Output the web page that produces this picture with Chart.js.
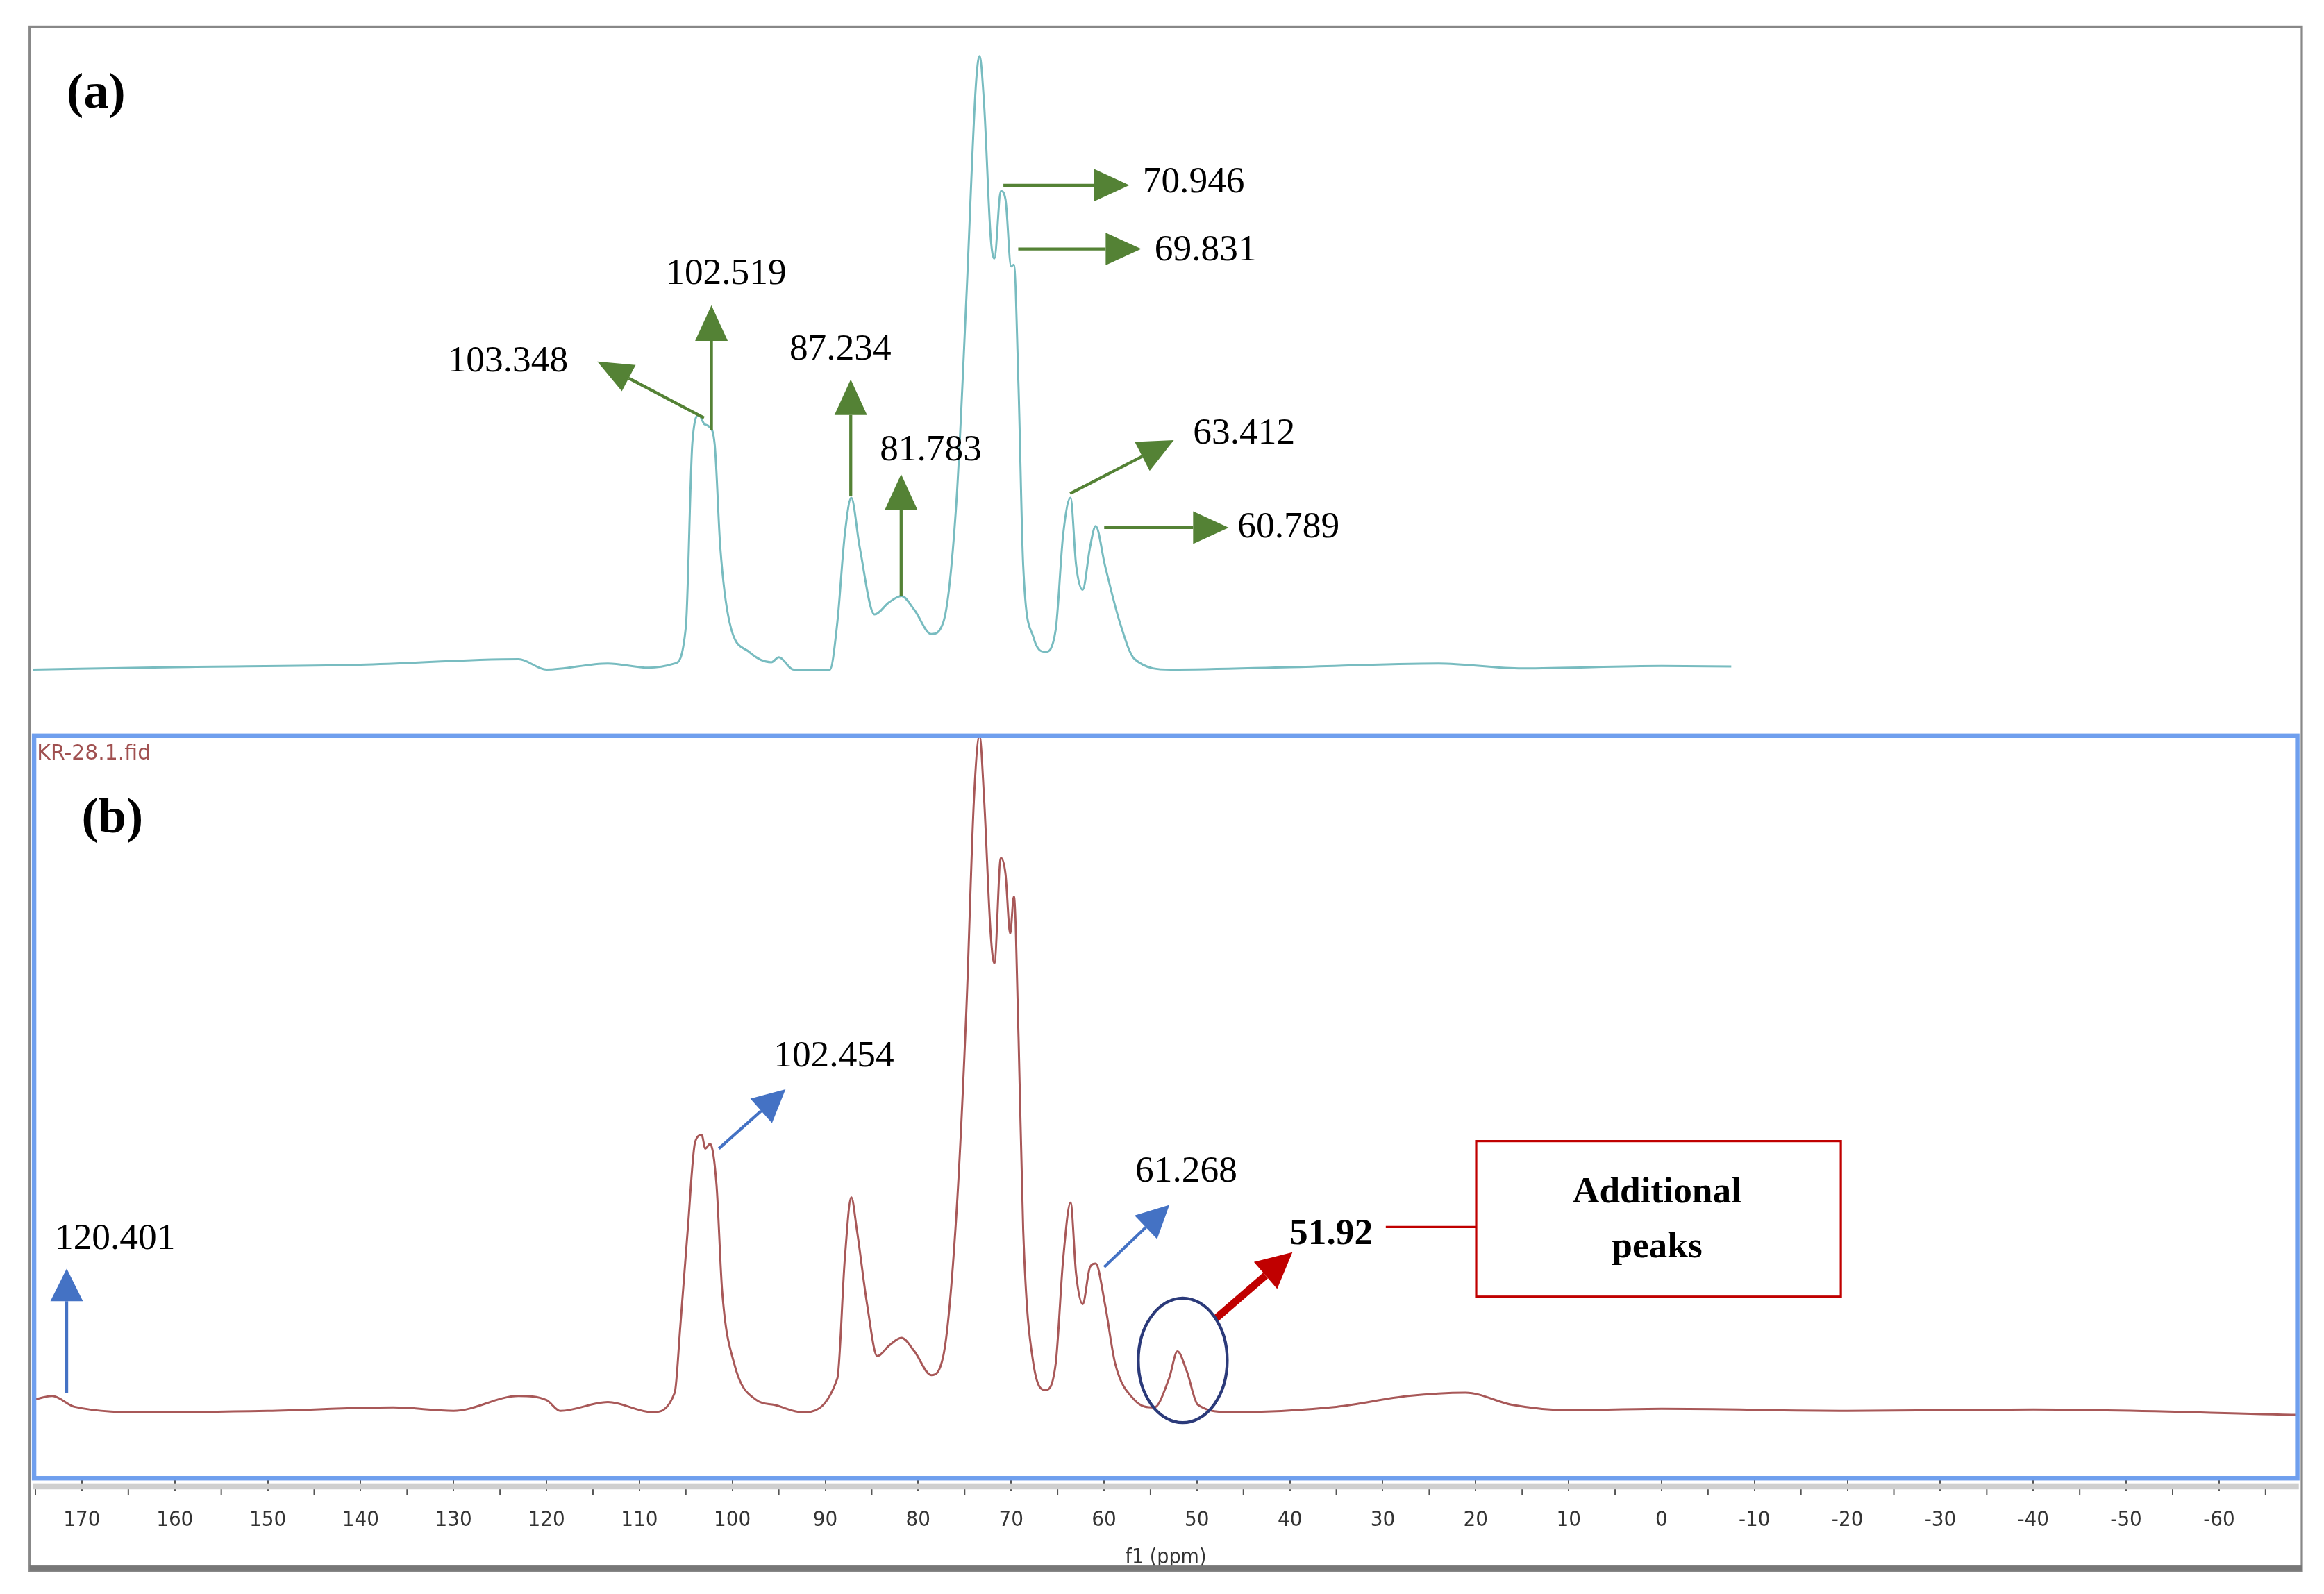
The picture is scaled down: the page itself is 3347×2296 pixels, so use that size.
<!DOCTYPE html>
<html>
<head>
<meta charset="utf-8">
<script src="https://cdn.jsdelivr.net/npm/chart.js@4.4.1/dist/chart.umd.min.js"></script>
<style>
  html, body { margin: 0; padding: 0; background: #fff; }
  canvas { display: block; }
</style>
</head>
<body>
<canvas id="myChart" width="3347" height="2296"></canvas>
<script>
// chemical shift (ppm) / relative intensity
const ppmA = [175.3, 160, 140, 123, 120, 113.4, 109, 106.2, 105, 104.3, 103.6, 103, 102.5, 101.9, 101.3, 100.3, 98.2, 95.8, 95, 93.4, 89.5,
  88.7, 87.9, 87.2, 86.3, 84.7, 83.1, 81.8, 80.4, 78.6, 77.3, 75.9, 74.8, 73.8, 73.4, 72.9, 72.2, 71.8, 71.1, 70.6, 70.0, 69.7, 69.2, 68.7,
  67.6, 66.3, 65.2, 64.4, 63.6, 63.0, 62.3, 61.5, 60.9, 59.9, 58.3, 56.7, 52.8, 40, 24, 15, 0, -7.5];
const intA = [0, 0.4, 0.8, 1.7, 0, 1, 0.3, 1, 7, 37, 41.5, 40, 39.6, 36.7, 20, 7.7, 2.9, 1.2, 2, 0, 0,
  7.7, 22, 28, 20, 9, 11, 12, 9.7, 5.8, 7.7, 27, 61, 95, 100, 92, 70.5, 67, 78, 76.6, 65.7, 66, 46, 17,
  5.3, 2.9, 6.5, 22, 28, 17, 13, 20, 23.4, 17, 7.7, 1.7, 0, 0.4, 1, 0.2, 0.6, 0.5];

const ppmB = [175.3, 173.2, 170.8, 163, 150, 136.5, 130, 123, 120, 118.5, 113.4, 108.6, 106.2, 105.6, 104.8, 104, 103.3, 102.9, 102.4, 101.7, 101.1,
  99.8, 97.4, 95.5, 92.5, 88.7, 87.9, 87.2, 86.6, 85.5, 84.4, 83.1, 81.8, 80.4, 78.6, 77.3, 75.9, 74.8, 74.0, 73.4, 72.9, 72.2, 71.8, 71.1,
  70.6, 70.1, 69.7, 69.2, 68.7, 67.6, 66.3, 65.2, 64.4, 63.6, 63.0, 62.3, 61.5, 60.9, 59.9, 58.8, 56.7, 54.6, 53.0, 52.1, 51.1, 49.9,
  46.4, 35, 27.3, 21.1, 16.1, 10, 0, -20, -40, -68.6];
const intB = [1.8, 2.4, 0.8, 0, 0.2, 0.7, 0.2, 2.4, 1.8, 0.2, 1.5, 0, 2.9, 12.7, 27, 40, 41, 39, 39.7, 33.6, 18,
  7.2, 1.8, 1.1, 0, 5, 22.6, 31.8, 27, 16, 8.3, 9.9, 11, 9, 5.5, 8.3, 29, 60, 90.6, 100, 90.6, 70.8, 66.4, 82,
  79.6, 70.8, 76.3, 55.5, 27, 7.2, 3.3, 7.2, 22.6, 31, 20.4, 16, 21.5, 22, 16, 7.2, 1.8, 0.7, 5, 9, 6.1, 1.1,
  0, 0.8, 2.4, 2.9, 1.1, 0.3, 0.5, 0.2, 0.4, -0.4];

const xTickStep = 10;

const S = 3347 / 1568; // figure units -> canvas pixels
const serif = "'Liberation Serif', 'DejaVu Serif', serif";

function arrow(c, x1, y1, x2, y2, color, w, hl, hw) {
  const a = Math.atan2(y2 - y1, x2 - x1);
  const bx = x2 - hl * Math.cos(a), by = y2 - hl * Math.sin(a);
  c.strokeStyle = color; c.fillStyle = color; c.lineWidth = w;
  c.beginPath(); c.moveTo(x1, y1); c.lineTo(bx, by); c.stroke();
  c.beginPath();
  c.moveTo(x2, y2);
  c.lineTo(bx + hw / 2 * Math.sin(a), by - hw / 2 * Math.cos(a));
  c.lineTo(bx - hw / 2 * Math.sin(a), by + hw / 2 * Math.cos(a));
  c.closePath(); c.fill();
}
function label(c, t, x, y, align, bold, size) {
  c.fillStyle = "#000";
  c.font = (bold ? "bold " : "") + (size || 25) + "px " + serif;
  c.textAlign = align || "left"; c.textBaseline = "middle";
  c.fillText(t, x, y);
}

const decor = {
  id: "decor",
  beforeDraw(chart) {
    const c = chart.ctx;
    c.save(); c.fillStyle = "#fff"; c.fillRect(0, 0, chart.width, chart.height); c.restore();
  },
  afterDraw(chart) {
    const c = chart.ctx;
    const xs = chart.scales.x;
    c.save();
    // minor ticks
    c.strokeStyle = "#555"; c.lineWidth = 2;
    for (let v = -65; v <= 175; v += 10) {
      const px = xs.getPixelForValue(v);
      c.beginPath(); c.moveTo(px, 1003 * S); c.lineTo(px, 1009 * S); c.stroke();
    }
    c.scale(S, S);
    // frames
    c.fillStyle = "#cfcfcf"; c.fillRect(22, 1001, 1529, 4);
    c.strokeStyle = "#888"; c.lineWidth = 1.5; c.strokeRect(20, 18, 1533, 1042);
    c.fillStyle = "#777"; c.fillRect(20, 1056, 1533, 4);
    c.strokeStyle = "#6f9fee"; c.lineWidth = 3; c.strokeRect(23, 496.5, 1527, 501);
    c.fillStyle = "#a05050"; c.font = "14px 'DejaVu Sans', sans-serif";
    c.textAlign = "left"; c.textBaseline = "middle"; c.fillText("KR-28.1.fid", 25, 509);

    label(c, "(a)", 45, 64, "left", true, 34);
    label(c, "(b)", 55, 553, "left", true, 34);

    const g = "#548235";
    arrow(c, 475, 282, 403, 244, g, 2, 24, 20); label(c, "103.348", 302, 244);
    arrow(c, 480, 290, 480, 206, g, 2, 24, 22); label(c, "102.519", 490, 185, "center");
    arrow(c, 574, 335, 574, 256, g, 2, 24, 22); label(c, "87.234", 567, 236, "center");
    arrow(c, 608, 402, 608, 320, g, 2, 24, 22); label(c, "81.783", 628, 304, "center");
    arrow(c, 677, 125, 762, 125, g, 2, 24, 22); label(c, "70.946", 771, 123);
    arrow(c, 687, 168, 770, 168, g, 2, 24, 22); label(c, "69.831", 779, 169);
    arrow(c, 722, 333, 792, 297, g, 2, 24, 22); label(c, "63.412", 805, 293);
    arrow(c, 745, 356, 829, 356, g, 2, 24, 22); label(c, "60.789", 835, 356);

    const b = "#4472c4";
    arrow(c, 45, 940, 45, 856, b, 2, 22, 22); label(c, "120.401", 37, 836);
    arrow(c, 485, 775, 530, 735, b, 2, 22, 22); label(c, "102.454", 522, 713);
    arrow(c, 745, 855, 789, 813, b, 2, 22, 22); label(c, "61.268", 766, 791);
    arrow(c, 820, 890, 872, 845, "#c00000", 5, 24, 24);
    label(c, "51.92", 870, 833, "left", true, 25);
    c.strokeStyle = "#c00000"; c.lineWidth = 1.5;
    c.beginPath(); c.moveTo(935, 828); c.lineTo(996, 828); c.stroke();
    c.strokeRect(996, 770, 246, 105);
    label(c, "Additional", 1118, 805, "center", true, 25);
    label(c, "peaks", 1118, 842, "center", true, 25);
    c.strokeStyle = "#2b3a7a"; c.lineWidth = 2;
    c.beginPath(); c.ellipse(798, 918, 30, 42, 0, 0, Math.PI * 2); c.stroke();
    c.restore();
  },
};

const ctx = document.getElementById("myChart");

new Chart(ctx, {
  type: "line",
  data: {
    datasets: [
      {
        label: "(a)",
        data: ppmA.map((p, i) => ({ x: p, y: intA[i] })),
        yAxisID: "ya",
        borderColor: "#78bcc0",
        borderWidth: 3,
        pointRadius: 0,
        cubicInterpolationMode: "monotone",
      },
      {
        label: "(b)",
        data: ppmB.map((p, i) => ({ x: p, y: intB[i] })),
        yAxisID: "yb",
        borderColor: "#a85858",
        borderWidth: 3,
        pointRadius: 0,
        cubicInterpolationMode: "monotone",
      },
    ],
  },
  options: {
    responsive: false,
    animation: false,
    devicePixelRatio: 1,
    layout: { padding: { left: 47, right: 36, top: 38, bottom: 2296 - 1060 * S } },
    scales: {
      x: {
        type: "linear",
        reverse: true,
        min: -68.6,
        max: 175.3,
        border: { display: false },
        grid: { drawOnChartArea: false, tickLength: 17, color: "#555", lineWidth: 2 },
        ticks: {
          stepSize: xTickStep,
          includeBounds: false,
          color: "#333",
          font: { family: "'DejaVu Sans Condensed', 'DejaVu Sans', sans-serif", size: 31 },
          padding: 24,
        },
        title: {
          display: true,
          text: "f1 (ppm)",
          color: "#333",
          padding: 0,
          font: { family: "'DejaVu Sans Condensed', 'DejaVu Sans', sans-serif", size: 30 },
        },
        afterFit(scale) { scale.height = (1060 - 998) * S; },
      },
      ya: { display: false, min: -131.9, max: 104.83 },
      yb: { display: false, min: -9.87, max: 205.0 },
    },
    plugins: { legend: { display: false }, tooltip: { enabled: false } },
  },
  plugins: [decor],
});
</script>
</body>
</html>
